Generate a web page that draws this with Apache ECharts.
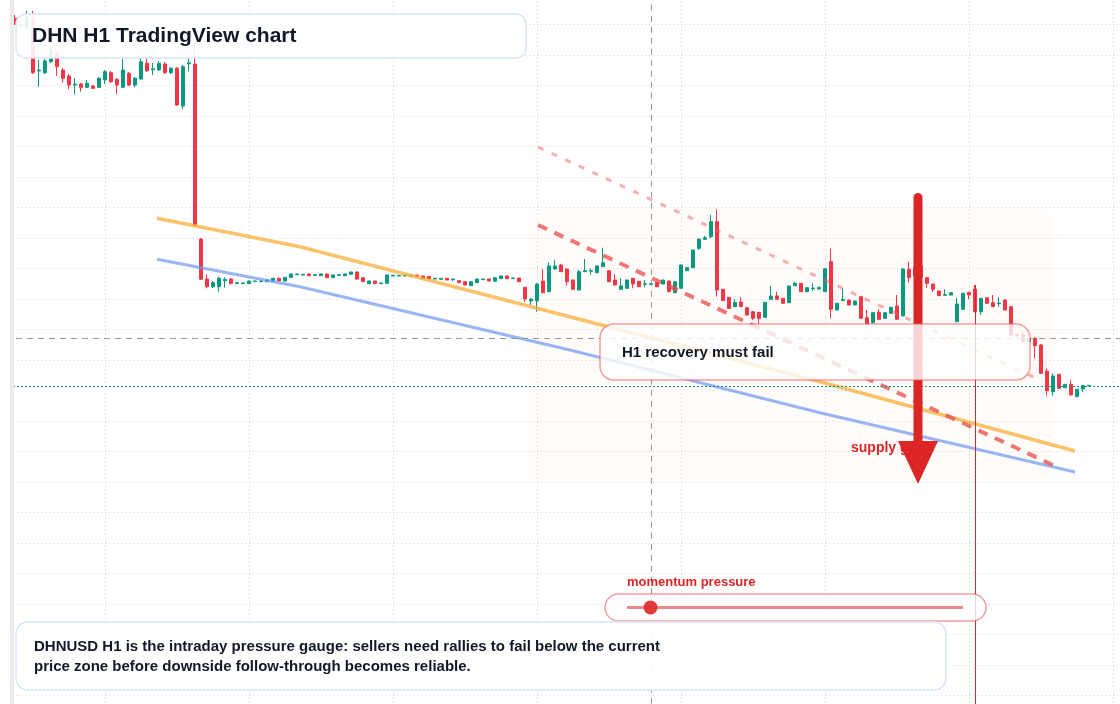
<!DOCTYPE html>
<html>
<head>
<meta charset="utf-8">
<title>DHN H1 TradingView chart</title>
<script src="https://cdn.jsdelivr.net/npm/echarts@6/dist/echarts.min.js"></script>
<style>
  html, body { margin: 0; padding: 0; background: #fff; }
  #chart { width: 1120px; height: 704px; }
</style>
</head>
<body>
<div id="chart"></div>
<script>
// H1 candles, x = hour counted from midnight of the first day (first bar is 09:00)
const firstHour = 9;

const opens = [
  7.075, 7.003, 6.978, 7.058, 6.548, 6.531, 6.641, 6.728, 6.558, 6.498,
  6.408, 6.418, 6.385, 6.398, 6.385, 6.458, 6.531, 6.465, 6.385, 6.525,
  6.408, 6.468, 6.625, 6.560, 6.558, 6.618, 6.531, 6.575, 6.198, 6.620,
  6.618, 4.868, 4.468, 4.391, 4.391, 4.451, 4.468, 4.422, 4.422, 4.421,
  4.442, 4.442, 4.441, 4.448, 4.475, 4.448, 4.485, 4.511, 4.508, 4.518,
  4.505, 4.501, 4.518, 4.481, 4.505, 4.501, 4.515, 4.538, 4.481, 4.421,
  4.448, 4.421, 4.425, 4.498, 4.498, 4.498, 4.498, 4.508, 4.498, 4.493,
  4.468, 4.465, 4.475, 4.461, 4.451, 4.441, 4.401, 4.431, 4.461, 4.468,
  4.445, 4.471, 4.498, 4.472, 4.478, 4.385, 4.248, 4.248, 4.448, 4.341,
  4.568, 4.608, 4.568, 4.458, 4.358, 4.541, 4.546, 4.531, 4.591, 4.551,
  4.458, 4.365, 4.375, 4.475, 4.445, 4.415, 4.415, 4.431, 4.418, 4.448,
  4.331, 4.375, 4.551, 4.581, 4.775, 4.865, 4.891, 5.041, 4.365, 4.285,
  4.191, 4.238, 4.181, 4.141, 4.135, 4.085, 4.265, 4.298, 4.275, 4.231,
  4.401, 4.425, 4.341, 4.371, 4.368, 4.341, 4.641, 4.158, 4.253, 4.258,
  4.208, 4.291, 4.081, 4.031, 4.135, 4.075, 4.125, 4.198, 4.098, 4.565,
  4.588, 4.598, 4.481, 4.418, 4.348, 4.305, 4.308, 4.041, 4.165, 4.335,
  4.368, 4.141, 4.281, 4.231, 4.221, 4.258, 4.191, 3.915, 3.908, 3.841,
  3.875, 3.808, 3.548, 3.341, 3.515, 3.381, 3.415, 3.291, 3.368, 3.399
];
const closes = [
  7.018, 7.013, 7.088, 6.531, 6.558, 6.648, 6.758, 6.591, 6.475, 6.408,
  6.418, 6.385, 6.425, 6.375, 6.475, 6.541, 6.441, 6.408, 6.558, 6.408,
  6.475, 6.641, 6.551, 6.570, 6.625, 6.531, 6.575, 6.208, 6.591, 6.630,
  5.008, 4.465, 4.391, 4.431, 4.475, 4.465, 4.425, 4.430, 4.428, 4.448,
  4.448, 4.448, 4.458, 4.475, 4.448, 4.485, 4.518, 4.518, 4.515, 4.501,
  4.511, 4.518, 4.481, 4.508, 4.511, 4.518, 4.538, 4.468, 4.441, 4.448,
  4.421, 4.428, 4.508, 4.505, 4.505, 4.505, 4.505, 4.491, 4.475, 4.471,
  4.475, 4.475, 4.458, 4.468, 4.431, 4.408, 4.441, 4.468, 4.468, 4.448,
  4.481, 4.498, 4.471, 4.478, 4.441, 4.268, 4.268, 4.418, 4.331, 4.598,
  4.598, 4.541, 4.441, 4.365, 4.541, 4.551, 4.553, 4.598, 4.631, 4.441,
  4.408, 4.398, 4.458, 4.418, 4.391, 4.421, 4.421, 4.391, 4.458, 4.341,
  4.441, 4.608, 4.581, 4.758, 4.868, 4.881, 5.041, 4.358, 4.251, 4.173,
  4.235, 4.191, 4.108, 4.075, 4.075, 4.235, 4.298, 4.265, 4.225, 4.398,
  4.425, 4.341, 4.381, 4.378, 4.385, 4.571, 4.165, 4.225, 4.261, 4.208,
  4.248, 4.075, 4.018, 4.131, 4.065, 4.131, 4.185, 4.065, 4.568, 4.481,
  4.498, 4.491, 4.425, 4.365, 4.301, 4.311, 4.331, 4.218, 4.325, 4.308,
  4.141, 4.275, 4.225, 4.191, 4.228, 4.158, 3.908, 3.898, 3.841, 3.875,
  3.801, 3.525, 3.351, 3.498, 3.375, 3.415, 3.308, 3.365, 3.401, 3.405
];
const lows = [
  7.008, 6.978, 6.958, 6.518, 6.391, 6.518, 6.628, 6.498, 6.431, 6.365,
  6.315, 6.341, 6.378, 6.368, 6.378, 6.418, 6.428, 6.318, 6.378, 6.398,
  6.385, 6.458, 6.538, 6.508, 6.548, 6.518, 6.518, 6.198, 6.165, 6.541,
  4.998, 4.458, 4.375, 4.378, 4.341, 4.381, 4.411, 4.418, 4.418, 4.418,
  4.438, 4.438, 4.438, 4.443, 4.443, 4.443, 4.480, 4.508, 4.505, 4.498,
  4.501, 4.498, 4.478, 4.478, 4.501, 4.498, 4.510, 4.458, 4.438, 4.418,
  4.418, 4.418, 4.421, 4.495, 4.495, 4.495, 4.495, 4.488, 4.472, 4.468,
  4.465, 4.462, 4.455, 4.445, 4.428, 4.405, 4.398, 4.428, 4.458, 4.445,
  4.441, 4.468, 4.468, 4.468, 4.438, 4.238, 4.208, 4.141, 4.328, 4.338,
  4.563, 4.538, 4.401, 4.361, 4.355, 4.538, 4.508, 4.528, 4.588, 4.438,
  4.405, 4.361, 4.371, 4.375, 4.388, 4.385, 4.411, 4.388, 4.415, 4.338,
  4.328, 4.371, 4.548, 4.578, 4.758, 4.862, 4.875, 4.291, 4.248, 4.170,
  4.188, 4.188, 4.105, 4.058, 4.018, 4.081, 4.261, 4.261, 4.221, 4.228,
  4.398, 4.338, 4.338, 4.348, 4.365, 4.338, 4.075, 4.155, 4.248, 4.205,
  4.205, 4.071, 4.015, 4.028, 4.061, 4.071, 4.121, 4.061, 4.095, 4.431,
  4.468, 4.488, 4.378, 4.338, 4.298, 4.298, 4.305, 4.038, 4.161, 4.265,
  4.138, 4.108, 4.221, 4.188, 4.191, 4.155, 3.905, 3.888, 3.838, 3.838,
  3.675, 3.518, 3.301, 3.301, 3.371, 3.378, 3.305, 3.288, 3.341, 3.396
];
const highs = [
  7.108, 7.048, 7.148, 7.148, 6.658, 6.678, 6.778, 6.738, 6.578, 6.518,
  6.475, 6.428, 6.458, 6.408, 6.488, 6.558, 6.548, 6.478, 6.675, 6.538,
  6.488, 6.691, 6.685, 6.628, 6.648, 6.638, 6.588, 6.588, 6.608, 6.678,
  6.838, 4.878, 4.515, 4.448, 4.491, 4.485, 4.478, 4.438, 4.433, 4.453,
  4.453, 4.453, 4.463, 4.478, 4.485, 4.488, 4.523, 4.523, 4.518, 4.523,
  4.515, 4.523, 4.523, 4.513, 4.515, 4.523, 4.543, 4.543, 4.488, 4.453,
  4.453, 4.433, 4.513, 4.508, 4.508, 4.508, 4.508, 4.511, 4.501, 4.498,
  4.478, 4.478, 4.478, 4.471, 4.455, 4.445, 4.445, 4.471, 4.471, 4.471,
  4.485, 4.501, 4.501, 4.481, 4.481, 4.388, 4.278, 4.428, 4.568, 4.631,
  4.658, 4.618, 4.573, 4.463, 4.558, 4.668, 4.575, 4.603, 4.781, 4.555,
  4.518, 4.475, 4.461, 4.478, 4.448, 4.458, 4.425, 4.435, 4.461, 4.451,
  4.445, 4.611, 4.585, 4.761, 4.871, 4.898, 5.108, 5.165, 4.368, 4.288,
  4.265, 4.285, 4.185, 4.145, 4.138, 4.238, 4.398, 4.341, 4.278, 4.401,
  4.441, 4.428, 4.385, 4.425, 4.388, 4.575, 4.775, 4.228, 4.375, 4.261,
  4.251, 4.295, 4.158, 4.135, 4.165, 4.135, 4.188, 4.308, 4.571, 4.641,
  4.618, 4.628, 4.485, 4.421, 4.351, 4.365, 4.335, 4.275, 4.328, 4.338,
  4.408, 4.278, 4.285, 4.308, 4.285, 4.261, 4.195, 3.918, 3.958, 3.878,
  3.888, 3.818, 3.575, 3.525, 3.518, 3.418, 3.458, 3.368, 3.405, 3.408
];

// drawn levels, [hour, price]
const upperTrend = [[32.67, 5.075], [56.5, 4.791], [143.17, 3.441], [185.67, 2.748]];
const lowerTrend = [[32.67, 4.665], [56.5, 4.391], [101.5, 3.758], [143.17, 3.131], [185.67, 2.538]];
const channelTop = [[96.17, 5.788], [179.83, 3.458]];
const channelMid = [[96.17, 5.008], [182.33, 2.598]];
const zoneLevel = 3.878;
const gateHour = 115;
const signalHour = 169;
const supplyZone = [[94.33, 5.178], [182, 2.428]];
const arrowFrom = [159.5, 5.283];
const arrowTo = [159.5, 2.418];
const momentum = 0.07;

const UP = '#089981';
const DOWN = '#f23645';
const FONT = '"Liberation Sans", Arial, sans-serif';

const candles = opens.map((o, i) => [firstHour + i, o, closes[i], lows[i], highs[i]]);
const lastClose = closes[closes.length - 1];
const signalIdx = signalHour - firstHour;

const chart = echarts.init(document.getElementById('chart'));

const gridLine = { lineStyle: { color: '#d4d4d4', width: 1, type: [1, 3] } };

chart.setOption({
  animation: false,
  backgroundColor: '#ffffff',
  grid: { left: -39, right: -137, top: -6.2, bottom: -21.8, outerBoundsMode: 'none', containLabel: false },
  xAxis: {
    type: 'value', min: 0, max: 216, interval: 24,
    axisLine: { show: false }, axisTick: { show: false }, axisLabel: { show: false },
    splitLine: gridLine
  },
  yAxis: {
    type: 'value', min: 0, max: 7.32, interval: 0.305,
    axisLine: { show: false }, axisTick: { show: false }, axisLabel: { show: false },
    splitLine: gridLine
  },
  series: [
    {
      type: 'candlestick',
      data: candles,
      barWidth: 3.8,
      z: 2,
      itemStyle: { color: UP, color0: DOWN, borderColor: UP, borderColor0: DOWN, borderWidth: 1 },
      markLine: {
        silent: true,
        symbol: 'none',
        label: { show: false },
        data: [
          { xAxis: gateHour, lineStyle: { color: '#9a9a9a', width: 1, type: [6, 5] } },
          { yAxis: zoneLevel, lineStyle: { color: '#9a9a9a', width: 1, type: [6, 5] } },
          { yAxis: lastClose, lineStyle: { color: UP, width: 1, type: [2, 2] } },
          [
            { coord: [signalHour, highs[signalIdx]], lineStyle: { color: '#dc2626', width: 1, type: 'solid' } },
            { coord: [signalHour, 0], lineStyle: { color: '#dc2626', width: 1, type: 'solid' } }
          ]
        ]
      }
    },
    {
      type: 'line', data: upperTrend, showSymbol: false, silent: true, z: 3,
      lineStyle: { color: 'rgba(246,170,50,0.72)', width: 3.5 }
    },
    {
      type: 'line', data: lowerTrend, showSymbol: false, silent: true, z: 3,
      lineStyle: { color: 'rgba(110,150,240,0.7)', width: 3 }
    },
    {
      type: 'line', data: channelTop, showSymbol: false, silent: true, z: 3,
      lineStyle: { color: 'rgba(236,100,100,0.5)', width: 3, type: [6, 9] }
    },
    {
      type: 'line', data: channelMid, showSymbol: false, silent: true, z: 3,
      lineStyle: { color: 'rgba(230,75,75,0.75)', width: 4, type: [10, 8] }
    }
  ]
});

const px = (pt) => chart.convertToPixel({ gridIndex: 0 }, pt);
const zA = px(supplyZone[0]);
const zB = px(supplyZone[1]);
const aTop = px(arrowFrom);
const aTip = px(arrowTo);
const headH = 43;
const trackX0 = 627, trackX1 = 963, trackY = 607.5;

chart.setOption({
  graphic: [
    // left price-scale edge
    { type: 'rect', z: 30, silent: true, shape: { x: 0, y: 0, width: 10, height: 704 }, style: { fill: '#ffffff' } },
    { type: 'rect', z: 30, silent: true, shape: { x: 10, y: 0, width: 4, height: 704 }, style: { fill: '#ebebeb' } },
    // supply zone
    {
      type: 'rect', z: 1, silent: true,
      shape: { x: zA[0], y: zA[1], width: zB[0] - zA[0], height: zB[1] - zA[1], r: 16 },
      style: { fill: 'rgba(251,146,60,0.022)' }
    },
    {
      type: 'text', z: 4, silent: true,
      style: { x: 851, y: 448, text: 'supply gate', font: 'bold 14px ' + FONT, fill: '#dc2626', verticalAlign: 'middle' }
    },
    // down arrow
    {
      type: 'line', z: 5, silent: true,
      shape: { x1: aTop[0], y1: aTop[1], x2: aTop[0], y2: aTip[1] - headH + 4 },
      style: { stroke: '#dc2626', lineWidth: 9, lineCap: 'round' }
    },
    {
      type: 'polygon', z: 5, silent: true,
      shape: { points: [[aTip[0] - 20, aTip[1] - headH], [aTip[0] + 20, aTip[1] - headH], [aTip[0], aTip[1]]] },
      style: { fill: '#dc2626' }
    },
    // callout
    {
      type: 'rect', z: 10, silent: true,
      shape: { x: 600, y: 324, width: 430, height: 56, r: 14 },
      style: { fill: 'rgba(255,255,255,0.8)', stroke: 'rgba(235,80,80,0.55)', lineWidth: 1.5 }
    },
    {
      type: 'text', z: 11, silent: true,
      style: { x: 622, y: 353, text: 'H1 recovery must fail', font: 'bold 15px ' + FONT, fill: '#111827', verticalAlign: 'middle' }
    },
    // title
    {
      type: 'rect', z: 10, silent: true,
      shape: { x: 16, y: 14, width: 510, height: 44, r: 10 },
      style: { fill: 'rgba(255,255,255,0.9)', stroke: '#d8e5fb', lineWidth: 1.5 }
    },
    {
      type: 'text', z: 11, silent: true,
      style: { x: 32, y: 36, text: 'DHN H1 TradingView chart', font: 'bold 21px ' + FONT, fill: '#111827', verticalAlign: 'middle' }
    },
    // momentum gauge
    {
      type: 'text', z: 11, silent: true,
      style: { x: 627, y: 582, text: 'momentum pressure', font: 'bold 13px ' + FONT, fill: '#dc2626', verticalAlign: 'middle' }
    },
    {
      type: 'rect', z: 10, silent: true,
      shape: { x: 605, y: 594, width: 381, height: 27, r: 13.5 },
      style: { fill: 'rgba(255,255,255,0.8)', stroke: 'rgba(235,80,80,0.55)', lineWidth: 1.5 }
    },
    {
      type: 'line', z: 11, silent: true,
      shape: { x1: trackX0, y1: trackY, x2: trackX1, y2: trackY },
      style: { stroke: 'rgba(225,60,60,0.6)', lineWidth: 3 }
    },
    {
      type: 'circle', z: 12, silent: true,
      shape: { cx: trackX0 + momentum * (trackX1 - trackX0), cy: trackY, r: 7 },
      style: { fill: 'rgba(224,45,45,0.92)' }
    },
    // footer note
    {
      type: 'rect', z: 10, silent: true,
      shape: { x: 16, y: 622, width: 930, height: 68, r: 12 },
      style: { fill: 'rgba(255,255,255,0.92)', stroke: '#d8e5fb', lineWidth: 1.5 }
    },
    {
      type: 'text', z: 11, silent: true,
      style: {
        x: 34, y: 637,
        text: 'DHNUSD H1 is the intraday pressure gauge: sellers need rallies to fail below the current\nprice zone before downside follow-through becomes reliable.',
        font: 'bold 15px ' + FONT, lineHeight: 20, fill: '#111827', verticalAlign: 'top'
      }
    }
  ]
});
</script>
</body>
</html>
